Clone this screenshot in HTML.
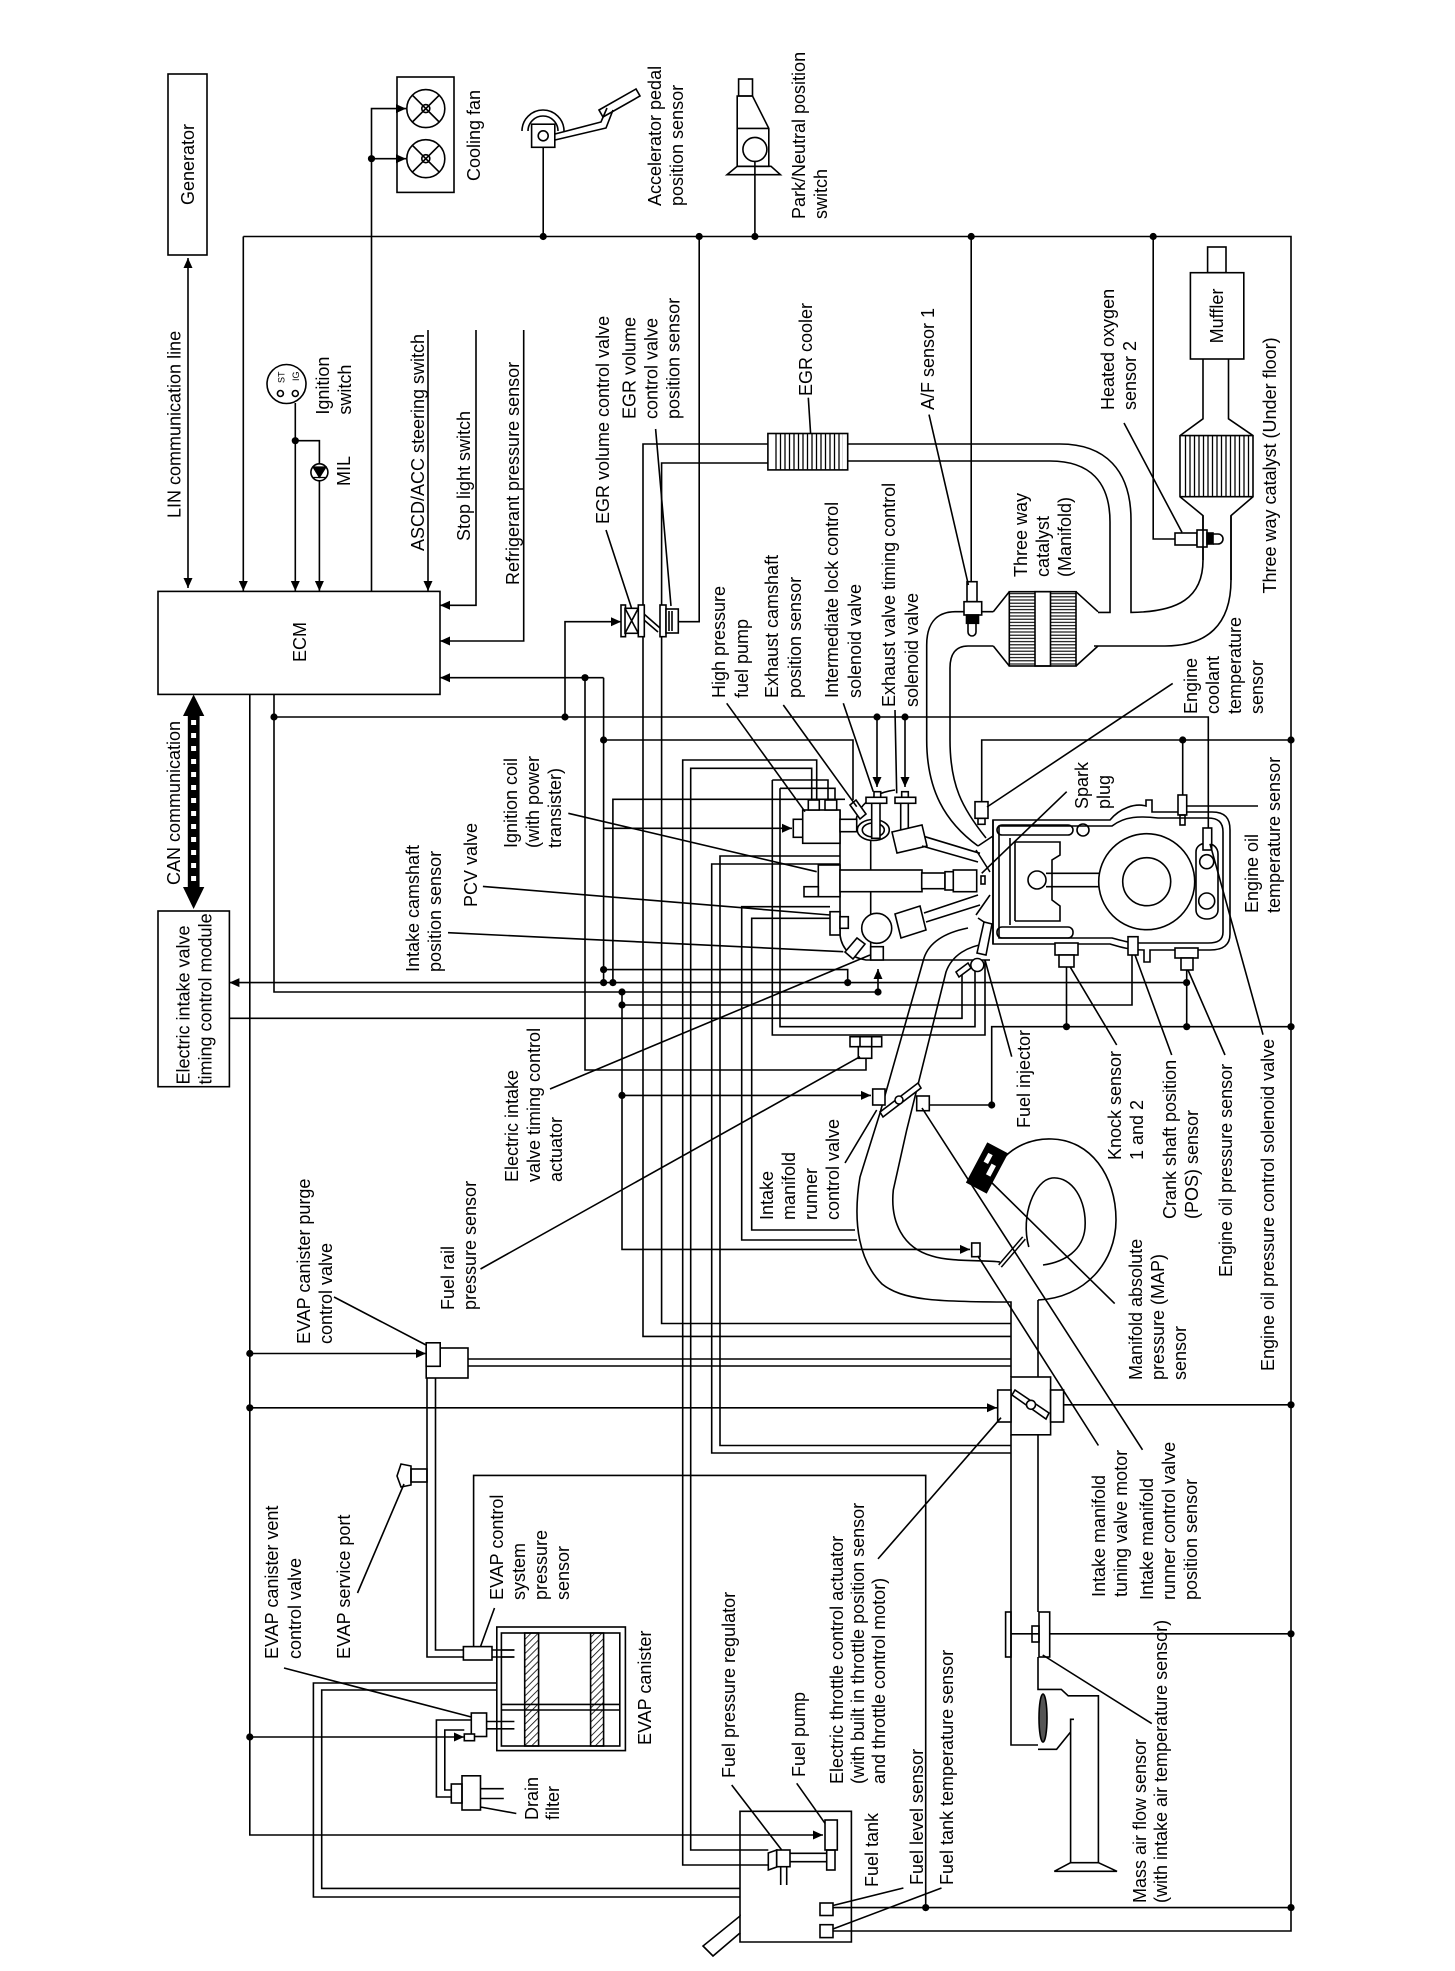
<!DOCTYPE html>
<html><head><meta charset="utf-8">
<style>
html,body{margin:0;padding:0;background:#fff;}
svg{display:block;}
text{font-family:"Liberation Sans",Arial,sans-serif;font-size:18px;fill:#000;stroke:none;}
</style></head><body>
<svg width="1455" height="1971" viewBox="0 0 1455 1971" xmlns="http://www.w3.org/2000/svg">
<defs>
<marker id="a" markerWidth="12" markerHeight="12" refX="10" refY="5" orient="auto" markerUnits="userSpaceOnUse"><path d="M0,0.5 L10,5 L0,9.5 z" fill="#000" stroke="none"/></marker>
<marker id="as" markerWidth="12" markerHeight="12" refX="10" refY="5" orient="auto-start-reverse" markerUnits="userSpaceOnUse"><path d="M0,0.5 L10,5 L0,9.5 z" fill="#000" stroke="none"/></marker>
<pattern id="hv" width="4.5" height="10" patternUnits="userSpaceOnUse"><line x1="2" y1="0" x2="2" y2="10" stroke="#000" stroke-width="1.3"/></pattern>
<pattern id="hh" width="10" height="3.2" patternUnits="userSpaceOnUse"><line x1="0" y1="1.6" x2="10" y2="1.6" stroke="#000" stroke-width="1.1"/></pattern>
<pattern id="hd" width="5" height="5" patternUnits="userSpaceOnUse" patternTransform="rotate(45)"><line x1="0" y1="0" x2="0" y2="5" stroke="#000" stroke-width="1.6"/></pattern>
</defs>

<g fill="none" stroke="#000" stroke-width="1.6">
<!-- top boxes -->
<rect x="168" y="74" width="39" height="181"/>
<rect x="158" y="591.4" width="282" height="103"/>
<rect x="158" y="911" width="71.4" height="175.7"/>
<rect x="397" y="77" width="57" height="115.4"/>
<!-- fans -->
<g>
<circle cx="425.8" cy="108.6" r="19"/><circle cx="425.8" cy="108.6" r="4"/>
<path d="M412.4,95.2 L439.2,122 M439.2,95.2 L412.4,122"/>
<circle cx="425.8" cy="158.7" r="19"/><circle cx="425.8" cy="158.7" r="4"/>
<path d="M412.4,145.3 L439.2,172.1 M439.2,145.3 L412.4,172.1"/>
</g>
<!-- accelerator pedal -->
<path d="M522,131 A21,21 0 0 1 564,131 M528,131 A15,15 0 0 1 558,131"/>
<rect x="531.6" y="124.2" width="23.2" height="23.1" fill="#fff"/>
<circle cx="543.2" cy="135.8" r="5"/>
<path d="M555,140 L606,128 L613,110 M555,134 L601,122 L607,108"/>
<polygon points="599,110 636,89 640,96 603,117"/>
<!-- park neutral -->
<rect x="738.6" y="79" width="13.9" height="17"/>
<path d="M737.2,96 H752.5 L768.8,128.4 V166.3 H737.2 Z M737.2,128.4 H768.8"/>
<circle cx="754.9" cy="149.4" r="12"/>
<polygon points="727,174.7 737.2,166.3 771,166.3 780.4,174.7"/>
<!-- ignition switch / MIL -->
<circle cx="286.5" cy="384" r="19.5"/>
<circle cx="280.4" cy="393.5" r="3"/><circle cx="295.3" cy="393.5" r="3"/>
<circle cx="319.4" cy="472.3" r="8.5"/>
<path d="M313,467 H326 L319.4,477.5 Z M313,477.5 H326" fill="#000" stroke-width="1.2"/>
<!-- muffler & underfloor catalyst -->
<rect x="1207.6" y="247" width="18.4" height="25.7"/>
<rect x="1190.4" y="272.7" width="53.4" height="86.3"/>
<path d="M1203,359 V418.8 L1180,435.6 V496.7 L1203,515.6 V560 M1228.5,359 V418.8 L1253,435.6 V496.7 L1231,515.6 V580"/>
<rect x="1182" y="435.6" width="69" height="61.1" fill="url(#hv)" stroke="none"/>
<path d="M1180,435.6 H1253 M1180,496.7 H1253"/>
<!-- HO2S -->
<rect x="1175" y="533" width="22" height="12" fill="#fff"/>
<rect x="1197" y="530" width="10" height="17" fill="#fff"/>
<rect x="1207" y="533" width="6" height="11" fill="#000"/>
<path d="M1213,534 H1218 A5,5 0 0 1 1218,544 H1213"/>
<!-- EGR cooler -->
<rect x="767.9" y="433.5" width="79.8" height="36.4"/>
<rect x="773" y="434" width="70" height="35.4" fill="url(#hv)" stroke="none"/>
<!-- EGR pipes -->
<path d="M767.9,444 H643 V1336.4 H1011 M767.9,463 H661.6 V1323.5 H1011"/>
<path d="M847.7,444 H1060 C1105,444 1131,470 1131,520 V612.4 C1178,612 1203,598 1203,560 V515.6"/>
<path d="M847.7,461 H1050 C1090,461 1110,482 1110,522 V612.4 H1098"/>
<path d="M1094,646 H1165 C1207,646 1231,625 1231,580 V515.6"/>
<!-- manifold catalyst -->
<rect x="1009.3" y="591.7" width="66.7" height="74.3"/>
<rect x="1010" y="592.5" width="25" height="72.5" fill="url(#hh)" stroke="none"/>
<rect x="1051" y="592.5" width="24.5" height="72.5" fill="url(#hh)" stroke="none"/>
<rect x="1035" y="591.7" width="15.5" height="74.3"/>
<path d="M1009.3,591.7 L993.3,611.7 M1009.3,666 L993.3,646 M1076,591.7 L1098,611.7 M1076,666 L1098,646"/>
<!-- exhaust inlet pipe -->
<path d="M993.3,611.7 H955 C935,612 926.7,625 926.7,645 V740 C926.7,790 945,822 978,846"/>
<path d="M993.3,646 H968 C955,646 950,655 950,668 V740 C950,785 962,808 986,838"/>
<!-- A/F sensor -->
<rect x="967" y="581.7" width="10" height="20" fill="#fff"/>
<rect x="964" y="601.7" width="17.7" height="13.3" fill="#fff"/>
<rect x="966.5" y="615" width="12" height="8.3" fill="#000"/>
<path d="M968,623 V632 A4,4 0 0 0 976,632 V623"/>
<!-- EGR valve + sensor -->
<rect x="621" y="605" width="4.5" height="31.7" fill="#fff"/>
<rect x="625" y="608.3" width="13.3" height="25" fill="#fff"/>
<path d="M625,608.3 L638.3,633.3 M638.3,608.3 L625,633.3"/>
<rect x="638.3" y="605" width="6" height="31.7" fill="#fff"/>
<path d="M644,614 L660,628 M644,620 L658,632"/>
<rect x="660" y="605" width="6" height="31.7" fill="#fff"/>
<rect x="666" y="609" width="12.3" height="24" fill="#fff"/>
<path d="M669,611 V631 M672,611 V631"/>

<!-- ===== wires ===== -->
<path d="M188,258 V588" marker-start="url(#as)" marker-end="url(#a)"/>
<path d="M243.3,236.5 V591" marker-end="url(#a)"/>
<path d="M243.3,236.5 H1291 V1931 H833"/>
<path d="M371.5,591 V108.6 H406" marker-end="url(#a)"/>
<path d="M371.5,158.7 H406" marker-end="url(#a)"/>
<path d="M295.3,403 V591" marker-end="url(#a)"/>
<path d="M295.3,440.7 H319.4 V463.8"/>
<path d="M319.4,480.8 V591" marker-end="url(#a)"/>
<path d="M428,330 V591" marker-end="url(#a)"/>
<path d="M476,330 V605.3 H440" marker-end="url(#a)"/>
<path d="M523.7,330 V641 H440" marker-end="url(#a)"/>
<path d="M543.2,147.3 V236.5"/>
<path d="M754.9,161.4 V236.5"/>
<path d="M699.2,236.5 V621.7 H678.3"/>
<path d="M971.2,236.5 V581.7"/>
<path d="M1153.2,236.5 V539 H1175"/>
<path d="M603.6,677.7 H440" marker-end="url(#a)"/>
<path d="M585,677.7 V1070 H866 V1058.3"/>
<path d="M603.6,677.7 V982.6"/>
<path d="M274,694.2 V992 H878 V969" marker-end="url(#a)"/>
<path d="M274,717 H1208.3 V828"/>
<path d="M877,717 V787" marker-end="url(#a)"/>
<path d="M905,717 V787" marker-end="url(#a)"/>
<path d="M565,717 V621.7 H621" marker-end="url(#a)"/>
<path d="M603.6,740 H853 V800"/>
<path d="M603.6,969.6 H847.7 V982.6"/>
<path d="M1186.6,982.6 H229.4" marker-end="url(#a)"/>
<path d="M229.4,1018.3 H962 V975"/>
<path d="M612.9,982.6 V799.3 H845"/>
<path d="M622,992 V1249.4 H970" marker-end="url(#a)"/>
<path d="M622,1095.4 H871" marker-end="url(#a)"/>
<path d="M622,1005 H1132 V955"/>
<path d="M929,1105 H991.7 V1026.7 H1291"/>
<path d="M1066.5,967 V1026.7"/>
<path d="M1186.7,970 V1026.7"/>
<path d="M981.7,818 V740 H1291"/>
<path d="M1182.7,740 V795"/>
<path d="M780,788.3 V1026.7 H975 V960"/>
<path d="M772.3,780 V1035 H985 V960"/>
<path d="M772.3,780 H828 V800 M780,788.3 H835 V800"/>
<path d="M603.6,828.3 H792" marker-end="url(#a)"/>
<!-- fuel pipes -->
<path d="M816.7,805 V760 H682.7 V1865 H768.3"/>
<path d="M811.7,805 V768.3 H690.7 V1850 H768.3"/>
<!-- PCV / hoses -->
<path d="M840,856 H720 V1445.5 H1011"/>
<path d="M840,864 H711.7 V1453 H1011"/>
<path d="M830,906.7 H741.7 V1240 H857"/>
<path d="M830,918.3 H751.7 V1230 H855"/>
<!-- EVAP purge pipes -->
<path d="M468,1359 H1011 M468,1366 H1011"/>
<path d="M427,1378 V1657 H463.4 M435.5,1378 V1650 H463.4"/>
<!-- left bus -->
<path d="M249.8,694.2 V1835 H823" marker-end="url(#a)"/>
<path d="M249.8,1353.5 H426" marker-end="url(#a)"/>
<path d="M249.8,1407.8 H997" marker-end="url(#a)"/>
<path d="M1063.6,1404.8 H1291"/>
<path d="M249.8,1737 H464" marker-end="url(#a)"/>
<path d="M1049.7,1633.8 H1291"/>
<path d="M833,1907.6 H1291"/>
<path d="M925.7,1907.6 V1475.4 H473.6 V1646.6"/>
<!-- canister to tank pipes -->
<path d="M496.8,1683 H313.4 V1897 H740 M496.8,1690 H321.7 V1888.4 H740"/>
<!-- drain pipes -->
<path d="M471.3,1720 H436.4 V1797 H451.3 M464.3,1730 H444.8 V1790 H451.3"/>

<!-- EVAP components -->
<rect x="426.2" y="1348" width="41.8" height="30" fill="#fff"/>
<rect x="426.2" y="1342.8" width="14" height="23.5" fill="#fff"/>
<rect x="411" y="1469" width="16" height="13"/>
<polygon points="397,1476 401,1464 411,1466 411,1485 401,1487"/>
<rect x="463.4" y="1646.6" width="28.6" height="13.4" fill="#fff"/>
<path d="M492,1650 H514.4 M492,1657 H514.4"/>
<rect x="496.8" y="1627" width="128.6" height="123.6"/>
<rect x="501.4" y="1633" width="118.4" height="113"/>
<rect x="524.7" y="1633" width="13.9" height="113" fill="url(#hd)"/>
<rect x="590.6" y="1633" width="13" height="113" fill="url(#hd)"/>
<path d="M501.4,1704.4 H619.8 M501.4,1710 H619.8"/>
<path d="M486.6,1721.5 H514.4 M486.6,1728.8 H514.4 M501.4,1650 H514.4 M501.4,1657 H514.4"/>
<rect x="471.3" y="1713" width="15.3" height="23.5" fill="#fff"/>
<rect x="464.3" y="1734" width="10.2" height="6.7" fill="#fff"/>
<rect x="451.3" y="1784" width="10.7" height="19"/>
<rect x="462" y="1775.8" width="18.5" height="34.2"/>
<path d="M480.5,1788.7 H503.8 M480.5,1798.5 H503.8"/>

<!-- fuel tank -->
<path d="M740,1916 V1811.3 H851.4 V1942 H740 V1933"/>
<polygon points="740,1916 740,1933 713,1956 703,1946"/>
<rect x="825" y="1820" width="12.3" height="30" fill="#fff"/>
<rect x="826.7" y="1850" width="8.3" height="20"/>
<polygon points="768.3,1853 776.7,1850 776.7,1867 768.3,1870" fill="#fff"/>
<rect x="776.7" y="1850" width="13.3" height="16.7" fill="#fff"/>
<path d="M790,1853.3 H826.7 M790,1861.7 H826.7 M780.7,1866.7 V1885 M786.7,1866.7 V1885"/>
<rect x="820" y="1903" width="13" height="12.5" fill="#fff"/>
<rect x="820" y="1924.7" width="13" height="12.9" fill="#fff"/>

<!-- intake duct, throttle, MAF, air cleaner -->
<path d="M1038,1377 V1300"/>
<path d="M1011,1434.8 V1745 H1038 M1038,1434.8 V1612"/>
<rect x="1011" y="1377" width="39.6" height="57.8" fill="#fff"/>
<rect x="997.7" y="1390" width="13.3" height="32" fill="#fff"/>
<rect x="1050.6" y="1390" width="13" height="32" fill="#fff"/>
<polygon points="1012,1395 1015,1390 1049,1413 1046,1419" fill="#fff"/>
<circle cx="1031" cy="1404.8" r="4.5" fill="#fff"/>
<rect x="1005.6" y="1612" width="5.4" height="45"/>
<rect x="1039" y="1612" width="10.7" height="45"/>
<path d="M1011,1633.8 H1039"/>
<rect x="1032" y="1626" width="7" height="16"/>
<path d="M1038,1657 V1689.4 H1061.3 L1068.2,1695.8 H1098.4 V1862.7 M1070.6,1719.3 V1862.7 M1038,1749.3 H1056.6 L1070.6,1732 V1719.3 H1074"/>
<ellipse cx="1043" cy="1718" rx="4" ry="24" fill="#555"/>
<polygon points="1054.3,1871.3 1117,1871.3 1098.4,1862.7 1070.6,1862.7"/>

<!-- intake manifold -->
<path d="M968,928 C948,932 930,940 924,958 L880,1113 L860,1177 C852,1225 860,1262 882,1284 C902,1300 935,1302 1011,1302 V1377"/>
<path d="M986,944 C968,946 952,955 946,972 L906.7,1130 L893.3,1190 C890,1222 903,1248 932,1256 C950,1262 985,1260 1000,1262"/>
<path d="M1038,1300 C1085,1298 1116,1262 1116,1220 C1116,1175 1090,1140 1052,1139 C1030,1138 1012,1148 1002,1160"/>
<path d="M1028.8,1247 C1020,1215 1035,1180 1052,1178 C1072,1176 1087,1200 1085,1228 C1083,1250 1065,1262 1043,1265"/>
<path d="M1000,1266 L1024,1238" stroke-width="5"/>
<path d="M1000,1266 L1024,1238" stroke="#fff" stroke-width="2"/>
<!-- runner control valve -->
<rect x="872.7" y="1089" width="12.3" height="16" fill="#fff"/>
<polygon points="880,1112 918,1083 921,1088 883,1117" fill="#fff"/>
<circle cx="899" cy="1100" r="4" fill="#fff"/>
<rect x="916.7" y="1096" width="12.6" height="14.7" fill="#fff"/>
<!-- MAP sensor -->
<g transform="translate(987,1168) rotate(28)">
<rect x="-11" y="-22" width="22" height="44" fill="#000"/>
<rect x="-6" y="-14" width="5" height="10" fill="#fff" stroke="none"/>
<rect x="2" y="-6" width="5" height="12" fill="#fff" stroke="none"/>
</g>
<!-- tuning valve motor -->
<rect x="971.7" y="1243" width="8.3" height="13.7" fill="#fff"/>
<!-- fuel rail pressure sensor -->
<rect x="850" y="1036.7" width="31.7" height="10" fill="#fff"/>
<path d="M860,1036.7 V1046.7 M871.7,1036.7 V1046.7"/>
<rect x="858.3" y="1046.7" width="13.4" height="11.6" fill="#fff"/>

<!-- engine block -->
<path d="M993,820 H1110 C1120,808 1135,803 1146,806 V800 H1152 V812 H1212 C1225,812 1230,818 1230,830 V934 C1230,946 1222,950 1210,950 H1150 V962 H1144 V950 C1130,950 1120,947 1110,944 H993 Z"/>
<path d="M999,826 H1112 C1125,816 1140,816 1158,818 H1208 C1218,818 1223,822 1223,832 V932 C1223,940 1218,943 1208,943 H1140 C1128,943 1120,940 1112,938 H999 Z"/>
<rect x="997" y="825" width="76" height="10" rx="5"/>
<rect x="997" y="927" width="76" height="11" rx="5"/>
<circle cx="1083" cy="830" r="6"/>
<path d="M1010,838 V925 M1015,842 V921"/>
<path d="M1015,842 H1060 V855 L1052,860 V900 L1060,906 V921 H1015"/>
<circle cx="1037" cy="880" r="9"/>
<path d="M1046,873.3 H1102 M1046,886.7 H1102"/>
<circle cx="1146.7" cy="881.7" r="48" fill="#fff"/>
<circle cx="1146.7" cy="881.7" r="24"/>
<path d="M1196,852 C1196,840 1218,840 1218,854 V910 C1218,922 1196,922 1196,910 Z"/>
<circle cx="1206.7" cy="861.7" r="7"/>
<circle cx="1206.7" cy="901" r="8"/>
<!-- engine sensors -->
<rect x="975" y="801.7" width="13" height="16.6" fill="#fff"/>
<rect x="978" y="818.3" width="7" height="6"/>
<rect x="1178" y="795" width="8.7" height="20" fill="#fff"/>
<rect x="1180" y="815" width="5" height="10"/>
<rect x="1203" y="828" width="8.7" height="22" fill="#fff"/>
<rect x="1055" y="943" width="23" height="12" fill="#fff"/>
<rect x="1059" y="955" width="15" height="12" fill="#fff"/>
<rect x="1128" y="936.7" width="10" height="18.3" fill="#fff"/>
<rect x="1175" y="948" width="23" height="10" fill="#fff"/>
<rect x="1181" y="958" width="12" height="12" fill="#fff"/>
<!-- cylinder head -->
<path d="M840,810 V935 C842,950 852,958 866,960 H990 M870.7,838 V960 M993,820 V944"/>
<path d="M856,820 C860,800 880,792 895,790"/>
<rect x="802.7" y="810" width="37.3" height="33.3" fill="#fff"/>
<rect x="793.3" y="819.3" width="9.4" height="18" fill="#fff"/>
<rect x="808.3" y="800" width="11" height="10" fill="#fff"/>
<rect x="825" y="800" width="11.7" height="10" fill="#fff"/>
<rect x="840" y="819.3" width="16.7" height="12.4" fill="#fff"/>
<polygon points="850,805 856,800 866,814 860,819" fill="#fff"/>
<ellipse cx="873.3" cy="830" rx="16" ry="10.5" fill="#fff"/>
<ellipse cx="873.3" cy="830" rx="11" ry="7"/>
<rect x="874" y="791.7" width="6.7" height="5.6" fill="#fff"/>
<rect x="866" y="797.3" width="20.7" height="6" fill="#fff"/>
<rect x="871.7" y="803.3" width="8.3" height="35" fill="#fff"/>
<rect x="901.7" y="791.7" width="6.6" height="5.6" fill="#fff"/>
<rect x="895" y="797.3" width="20.7" height="6" fill="#fff"/>
<rect x="900.7" y="803.3" width="7.6" height="35" fill="#fff"/>
<polygon points="892,832 922,825 927,846 897,853" fill="#fff"/>
<path d="M925,836.7 L980,853.3 M922,846 L978,862"/>
<rect x="818.3" y="865" width="21.7" height="31.7" fill="#fff"/>
<rect x="804" y="886.7" width="14.3" height="10" fill="#fff"/>
<rect x="840" y="870" width="82" height="21.7" fill="#fff"/>
<rect x="921.7" y="873" width="23.3" height="15.7" fill="#fff"/>
<rect x="945" y="871.7" width="8.3" height="18.3" fill="#fff"/>
<rect x="953.3" y="870" width="23.4" height="21.7" fill="#fff"/>
<rect x="981" y="876" width="4" height="8"/>
<rect x="830" y="911.7" width="10" height="23.3" fill="#fff"/>
<rect x="840" y="916.7" width="8.3" height="11.6" fill="#fff"/>
<polygon points="895,914 920,906 926,930 901,938" fill="#fff"/>
<path d="M924,913 L978,895 M926,922 L980,905"/>
<circle cx="876.7" cy="928.3" r="15" fill="#fff"/>
<polygon points="845,952 857,938 865,944 853,959" fill="#fff"/>
<rect x="870.7" y="946.7" width="12.6" height="13.3" fill="#fff"/>
<path d="M978,846 L993,836 M978,918 L993,928 M976,850 L990,872 M976,915 L990,895"/>
<!-- fuel injector -->
<polygon points="977,953 984,922 992,924 986,955" fill="#fff"/>
<circle cx="977.3" cy="965" r="6.5" fill="#fff"/>
<polygon points="956,972 968,963 971,968 959,977" fill="#fff"/>

<!-- leaders -->
<path d="M606,530 L631.5,608 M655.6,429 L671,606 M808.3,397.7 L810.6,433.5 M929,414.6 L968.4,585 M1124,423 L1182,532.4"/>
<path d="M726.7,703.3 L805,811.7 M783.3,705 L856.7,806.7 M843.3,703.3 L873.3,791.7 M895,710 L896.7,793.3"/>
<path d="M568.3,813.3 L816.7,871.7 M482.9,886.4 L830,915 M448,932.7 L843.3,951.7 M550,1089 L870,955 M480.5,1269 L860,1056.7"/>
<path d="M1172.7,683.4 L987,807 M1066.7,791.7 L981.7,873.3 M1187,806 H1258 M1263,1034.7 L1210,843.8"/>
<path d="M1070,966.7 L1116.7,1045 M1135,955 L1171.7,1055 M1188,970 L1225,1055 M985,960 L1011.7,1056.7"/>
<path d="M845,1163 L876.7,1110 M987,1178 L1114.7,1303.6 M977.7,1255.8 L1098.4,1445.5 M922,1108 L1142.5,1449.8"/>
<path d="M878,1558.9 L1001,1417.7 M1151.8,1723.6 L1042.7,1655 M903.4,1888 L832.9,1905.5 M941.5,1888 L832.9,1929"/>
<path d="M731.7,1785 L781.7,1850 M796.7,1783.3 L825,1823.3"/>
<path d="M334,1297 L426,1345 M357.5,1593 L404,1484 M284,1668 L471.3,1717 M494.5,1608 L480.5,1646.6 M516.3,1813.5 L480.5,1807"/>
</g>

<!-- CAN arrow -->
<polygon points="193.6,694.5 204.3,716 199.6,716 199.6,887 204.3,887 193.6,909 183,887 187.8,887 187.8,716 183,716" fill="#000"/>
<line x1="193.6" y1="720" x2="193.6" y2="884" stroke="#fff" stroke-width="5" stroke-dasharray="5 8"/>

<!-- dots -->
<g fill="#000">
<circle cx="543.2" cy="236.5" r="3.6"/><circle cx="699.2" cy="236.5" r="3.6"/><circle cx="754.9" cy="236.5" r="3.6"/>
<circle cx="971.2" cy="236.5" r="3.6"/><circle cx="1153.2" cy="236.5" r="3.6"/><circle cx="371.5" cy="158.7" r="3.6"/>
<circle cx="295.3" cy="440.7" r="3.6"/><circle cx="585" cy="677.7" r="3.6"/><circle cx="274" cy="717" r="3.6"/>
<circle cx="565" cy="717" r="3.6"/><circle cx="877" cy="717" r="3.6"/><circle cx="905" cy="717" r="3.6"/>
<circle cx="603.6" cy="740" r="3.6"/><circle cx="603.6" cy="969.6" r="3.6"/><circle cx="603.6" cy="982.6" r="3.6"/>
<circle cx="612.9" cy="982.6" r="3.6"/><circle cx="847.7" cy="982.6" r="3.6"/><circle cx="1186.6" cy="982.6" r="3.6"/>
<circle cx="622" cy="992" r="3.6"/><circle cx="878" cy="992" r="3.6"/><circle cx="622" cy="1095.4" r="3.6"/>
<circle cx="622" cy="1005" r="3.6"/><circle cx="991.7" cy="1105" r="3.6"/><circle cx="1066.5" cy="1026.7" r="3.6"/>
<circle cx="1186.7" cy="1026.7" r="3.6"/><circle cx="1291" cy="1026.7" r="3.6"/><circle cx="1182.7" cy="740" r="3.6"/>
<circle cx="1291" cy="740" r="3.6"/><circle cx="249.8" cy="1353.5" r="3.6"/><circle cx="249.8" cy="1407.8" r="3.6"/>
<circle cx="249.8" cy="1737" r="3.6"/><circle cx="1291" cy="1404.8" r="3.6"/><circle cx="1291" cy="1633.8" r="3.6"/>
<circle cx="1291" cy="1907.6" r="3.6"/><circle cx="925.7" cy="1907.6" r="3.6"/>
</g>

<!-- labels -->
<g>
<text transform="translate(194,164.5) rotate(-90)" text-anchor="middle">Generator</text>
<text transform="translate(306,642) rotate(-90)" text-anchor="middle">ECM</text>
<text transform="translate(1223,316) rotate(-90)" text-anchor="middle">Muffler</text>
<text transform="translate(284.5,383) rotate(-90)" style="font-size:9px">ST</text>
<text transform="translate(299,381) rotate(-90)" style="font-size:9px">IG</text>
<text transform="translate(180.3,518) rotate(-90)">LIN communication line</text>
<text transform="translate(480,181) rotate(-90)">Cooling fan</text>
<text transform="translate(661,206) rotate(-90)"><tspan x="0" y="0">Accelerator pedal</tspan><tspan x="0" y="22">position sensor</tspan></text>
<text transform="translate(805,219) rotate(-90)"><tspan x="0" y="0">Park/Neutral position</tspan><tspan x="0" y="22">switch</tspan></text>
<text transform="translate(329,414.6) rotate(-90)"><tspan x="0" y="0">Ignition</tspan><tspan x="0" y="22">switch</tspan></text>
<text transform="translate(350,486) rotate(-90)">MIL</text>
<text transform="translate(424,551) rotate(-90)">ASCD/ACC steering switch</text>
<text transform="translate(470,541) rotate(-90)">Stop light switch</text>
<text transform="translate(519,585) rotate(-90)">Refrigerant pressure sensor</text>
<text transform="translate(609,524) rotate(-90)">EGR volume control valve</text>
<text transform="translate(635.5,419) rotate(-90)"><tspan x="0" y="0">EGR volume</tspan><tspan x="0" y="22">control valve</tspan><tspan x="0" y="44">position sensor</tspan></text>
<text transform="translate(812,396) rotate(-90)">EGR cooler</text>
<text transform="translate(934,410) rotate(-90)">A/F sensor 1</text>
<text transform="translate(1114,410) rotate(-90)"><tspan x="0" y="0">Heated oxygen</tspan><tspan x="0" y="22">sensor 2</tspan></text>
<text transform="translate(1276,593.5) rotate(-90)">Three way catalyst (Under floor)</text>
<text transform="translate(1027,577) rotate(-90)"><tspan x="0" y="0">Three way</tspan><tspan x="0" y="22">catalyst</tspan><tspan x="0" y="44">(Manifold)</tspan></text>
<text transform="translate(180,885) rotate(-90)">CAN communication</text>
<text transform="translate(189.7,1084.5) rotate(-90)"><tspan x="0" y="0">Electric intake valve</tspan><tspan x="0" y="22">timing control module</tspan></text>
<text transform="translate(419,972) rotate(-90)"><tspan x="0" y="0">Intake camshaft</tspan><tspan x="0" y="22">position sensor</tspan></text>
<text transform="translate(477,907) rotate(-90)">PCV valve</text>
<text transform="translate(517,848) rotate(-90)"><tspan x="0" y="0">Ignition coil</tspan><tspan x="0" y="22">(with power</tspan><tspan x="0" y="44">transister)</tspan></text>
<text transform="translate(518,1182) rotate(-90)"><tspan x="0" y="0">Electric intake</tspan><tspan x="0" y="22">valve timing control</tspan><tspan x="0" y="44">actuator</tspan></text>
<text transform="translate(454,1310) rotate(-90)"><tspan x="0" y="0">Fuel rail</tspan><tspan x="0" y="22">pressure sensor</tspan></text>
<text transform="translate(310,1344) rotate(-90)"><tspan x="0" y="0">EVAP canister purge</tspan><tspan x="0" y="22">control valve</tspan></text>
<text transform="translate(725,698) rotate(-90)"><tspan x="0" y="0">High pressure</tspan><tspan x="0" y="23">fuel pump</tspan></text>
<text transform="translate(778,698) rotate(-90)"><tspan x="0" y="0">Exhaust camshaft</tspan><tspan x="0" y="23">position sensor</tspan></text>
<text transform="translate(838,698) rotate(-90)"><tspan x="0" y="0">Intermediate lock control</tspan><tspan x="0" y="23">solenoid valve</tspan></text>
<text transform="translate(895,707) rotate(-90)"><tspan x="0" y="0">Exhaust valve timing control</tspan><tspan x="0" y="23">solenoid valve</tspan></text>
<text transform="translate(1197,714) rotate(-90)"><tspan x="0" y="0">Engine</tspan><tspan x="0" y="22">coolant</tspan><tspan x="0" y="44">temperature</tspan><tspan x="0" y="66">sensor</tspan></text>
<text transform="translate(1088,809) rotate(-90)"><tspan x="0" y="0">Spark</tspan><tspan x="0" y="22">plug</tspan></text>
<text transform="translate(1258,913) rotate(-90)"><tspan x="0" y="0">Engine oil</tspan><tspan x="0" y="22">temperature sensor</tspan></text>
<text transform="translate(1030,1128) rotate(-90)">Fuel injector</text>
<text transform="translate(1121,1160) rotate(-90)"><tspan x="0" y="0">Knock sensor</tspan><tspan x="0" y="22">1 and 2</tspan></text>
<text transform="translate(1176,1219) rotate(-90)"><tspan x="0" y="0">Crank shaft position</tspan><tspan x="0" y="22">(POS) sensor</tspan></text>
<text transform="translate(1232,1277) rotate(-90)">Engine oil pressure sensor</text>
<text transform="translate(1274,1371) rotate(-90)">Engine oil pressure control solenoid valve</text>
<text transform="translate(773,1220) rotate(-90)"><tspan x="0" y="0">Intake</tspan><tspan x="0" y="22">manifold</tspan><tspan x="0" y="44">runner</tspan><tspan x="0" y="66">control valve</tspan></text>
<text transform="translate(1142,1380) rotate(-90)"><tspan x="0" y="0">Manifold absolute</tspan><tspan x="0" y="22">pressure (MAP)</tspan><tspan x="0" y="44">sensor</tspan></text>
<text transform="translate(1105,1597) rotate(-90)"><tspan x="0" y="0">Intake manifold</tspan><tspan x="0" y="22">tuning valve motor</tspan></text>
<text transform="translate(1153,1600) rotate(-90)"><tspan x="0" y="0">Intake manifold</tspan><tspan x="0" y="22">runner control valve</tspan><tspan x="0" y="44">position sensor</tspan></text>
<text transform="translate(843,1784) rotate(-90)"><tspan x="0" y="0">Electric throttle control actuator</tspan><tspan x="0" y="21">(with built in throttle position sensor</tspan><tspan x="0" y="42">and throttle control motor)</tspan></text>
<text transform="translate(735,1778) rotate(-90)">Fuel pressure regulator</text>
<text transform="translate(805,1777) rotate(-90)">Fuel pump</text>
<text transform="translate(651,1745) rotate(-90)">EVAP canister</text>
<text transform="translate(878,1887) rotate(-90)">Fuel tank</text>
<text transform="translate(923,1885) rotate(-90)">Fuel level sensor</text>
<text transform="translate(953,1885) rotate(-90)">Fuel tank temperature sensor</text>
<text transform="translate(1146,1903) rotate(-90)"><tspan x="0" y="0">Mass air flow sensor</tspan><tspan x="0" y="21">(with intake air temperature sensor)</tspan></text>
<text transform="translate(278,1659) rotate(-90)"><tspan x="0" y="0">EVAP canister vent</tspan><tspan x="0" y="23">control valve</tspan></text>
<text transform="translate(350,1659) rotate(-90)">EVAP service port</text>
<text transform="translate(503,1600) rotate(-90)"><tspan x="0" y="0">EVAP control</tspan><tspan x="0" y="22">system</tspan><tspan x="0" y="44">pressure</tspan><tspan x="0" y="66">sensor</tspan></text>
<text transform="translate(538,1820) rotate(-90)"><tspan x="0" y="0">Drain</tspan><tspan x="0" y="21">filter</tspan></text>
</g>
</svg>
</body></html>
